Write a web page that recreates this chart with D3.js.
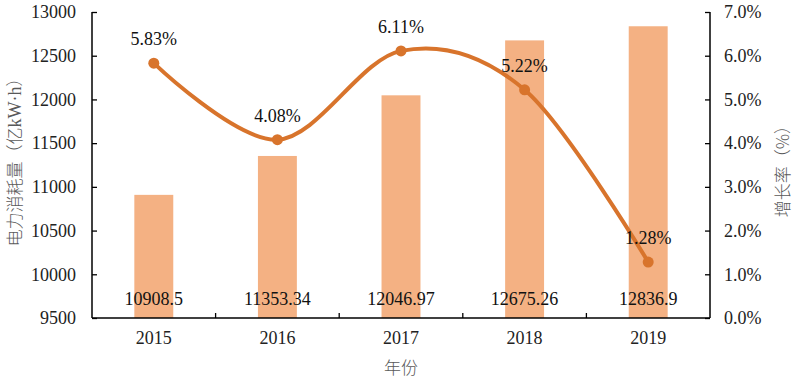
<!DOCTYPE html>
<html><head><meta charset="utf-8">
<script src="https://cdn.jsdelivr.net/npm/d3@7"></script>
<style>body{margin:0;background:#fff}svg{display:block}
.serif{font-family:"Liberation Serif","Times New Roman",serif}
.cjk{font-family:"Noto Sans CJK SC",sans-serif}
</style>
</head><body>
<svg id="c" width="800" height="379"></svg>
<script>
const years = ["2015","2016","2017","2018","2019"];
const consumption = [10908.5, 11353.34, 12046.97, 12675.26, 12836.9];
const consumptionLabels = ["10908.5","11353.34","12046.97","12675.26","12836.9"];
const growth = [5.83, 4.08, 6.11, 5.22, 1.28];
const leftTicks = [9500,10000,10500,11000,11500,12000,12500,13000];
const rightTicks = [0,1,2,3,4,5,6,7];

const svg = d3.select("#c");
const L = 92, R = 710, T = 12, B = 318;

const x = d3.scaleBand().domain(years).range([L, R]).paddingInner(0).paddingOuter(0);
const yL = d3.scaleLinear().domain([9500, 13000]).range([B, T]);
const yR = d3.scaleLinear().domain([0, 7]).range([B, T]);

// bars
const bw = x.bandwidth() * 0.315;
svg.append("g").selectAll("rect").data(years).join("rect")
  .attr("x", (d) => x(d) + x.bandwidth()/2 - bw/2)
  .attr("width", bw)
  .attr("y", (d,i) => yL(consumption[i]))
  .attr("height", (d,i) => B - yL(consumption[i]))
  .attr("fill", "#F4B183");

// axes
const axL = svg.append("g").attr("transform", `translate(${L},0)`)
  .call(d3.axisLeft(yL).tickValues(leftTicks).tickSize(-5).tickPadding(16).tickFormat(d3.format("d")));
const axR = svg.append("g").attr("transform", `translate(${R},0)`)
  .call(d3.axisRight(yR).tickValues(rightTicks).tickSize(-5).tickPadding(16).tickFormat(d => d.toFixed(1) + "%"));
const axB = svg.append("g").attr("transform", `translate(0,${B})`)
  .call(d3.axisBottom(x).tickSize(0).tickPadding(13));
svg.append("g").selectAll("line").data(years.slice(1)).join("line")
  .attr("x1", d => x(d)).attr("x2", d => x(d))
  .attr("y1", B).attr("y2", B - 5)
  .attr("stroke", "#000").attr("stroke-width", 1.3);

[axL, axR, axB].forEach(a => {
  a.attr("font-family", null).attr("font-size", null);
  a.select(".domain").attr("stroke", "#000").attr("stroke-width", 1.5);
  a.selectAll(".tick line").attr("stroke", "#000").attr("stroke-width", 1.3);
  a.selectAll("text").attr("class", "serif").style("font-size", "18px").attr("fill", "#222");
});
axL.select(".domain").attr("d", `M0,${T}V${B}`);
axR.select(".domain").attr("d", `M0,${T}V${B}`);
axB.select(".domain").attr("d", `M${L},0H${R}`);
axR.selectAll("text").attr("dx", -2);

// bar labels
svg.append("g").selectAll("text").data(years).join("text")
  .attr("class", "serif")
  .attr("x", d => x(d) + x.bandwidth()/2)
  .attr("y", 305)
  .attr("text-anchor", "middle")
  .style("font-size", "18px").attr("fill", "#111")
  .text((d,i) => consumptionLabels[i]);

// line
const pts = years.map((d,i) => [x(d) + x.bandwidth()/2, yR(growth[i])]);
svg.append("path").datum(pts)
  .attr("d", d3.line().curve(d3.curveCardinal.tension(0)))
  .attr("fill", "none").attr("stroke", "#D8742C").attr("stroke-width", 4);
svg.append("g").selectAll("circle").data(pts).join("circle")
  .attr("cx", d => d[0]).attr("cy", d => d[1]).attr("r", 5.5)
  .attr("fill", "#D8742C");
svg.append("g").selectAll("text").data(years).join("text")
  .attr("class", "serif")
  .attr("x", (d,i) => pts[i][0])
  .attr("y", (d,i) => pts[i][1] - 18)
  .attr("text-anchor", "middle")
  .style("font-size", "18px").attr("fill", "#111")
  .text((d,i) => growth[i].toFixed(2) + "%");

// titles
const lt = svg.append("text").attr("class", "cjk").attr("transform", `translate(21,158) rotate(-90)`)
  .attr("text-anchor", "middle").style("font-size", "17px").style("font-weight", 300)
  .attr("fill", "#595959");
lt.append("tspan").text("电力消耗量（亿");
lt.append("tspan").attr("class", "serif").style("font-size", "18px").text("kW·h");
lt.append("tspan").text("）");
svg.append("text").attr("class", "cjk").attr("transform", `translate(789,167) rotate(-90)`)
  .attr("text-anchor", "middle").style("font-size", "17px").style("font-weight", 300)
  .attr("fill", "#595959").text("增长率（%）");
svg.append("text").attr("class", "cjk").attr("x", (L+R)/2).attr("y", 374)
  .attr("text-anchor", "middle").style("font-size", "17px").style("font-weight", 300)
  .attr("fill", "#595959").text("年份");
</script>
</body></html>
